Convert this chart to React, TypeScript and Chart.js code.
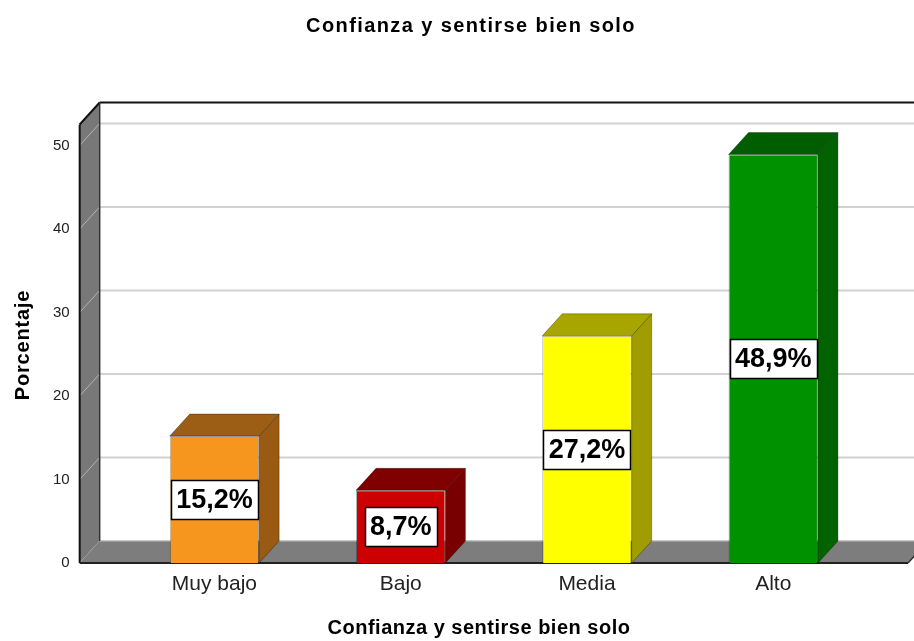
import { useEffect, useRef } from 'react';
import { Chart, registerables } from 'chart.js';

Chart.register(...registerables);

// ---- data ----
const categories = ['Muy bajo', 'Bajo', 'Media', 'Alto'];
const percentages = [15.2, 8.7, 27.2, 48.9];
const frontColors = ['#F7961E', '#CC0000', '#FFFF00', '#009100'];
const sideColors = ['#995A14', '#790000', '#A09D00', '#006300'];
const topColors = ['#9C5E15', '#800000', '#A8A500', '#005E00'];
const chartTitle = 'Confianza y sentirse bien solo';
const xAxisTitle = 'Confianza y sentirse bien solo';
const yAxisTitle = 'Porcentaje';
const yMin = 0;
const yMax = 52.5;
const yStep = 10;
const xMargin = 0.2235;

const FONT = '"Liberation Sans", Arial, sans-serif';
const DX = 20;
const DY = -22;

type Pt = [number, number];

function poly(ctx: CanvasRenderingContext2D, pts: Pt[], fill: string, stroke?: string, lw = 1) {
  ctx.beginPath();
  ctx.moveTo(pts[0][0], pts[0][1]);
  for (let i = 1; i < pts.length; i++) ctx.lineTo(pts[i][0], pts[i][1]);
  ctx.closePath();
  ctx.fillStyle = fill;
  ctx.fill();
  if (stroke) {
    ctx.strokeStyle = stroke;
    ctx.lineWidth = lw;
    ctx.stroke();
  }
}

function line(ctx: CanvasRenderingContext2D, x1: number, y1: number, x2: number, y2: number, color: string, lw: number) {
  ctx.beginPath();
  ctx.moveTo(x1, y1);
  ctx.lineTo(x2, y2);
  ctx.strokeStyle = color;
  ctx.lineWidth = lw;
  ctx.stroke();
}

const threeD = {
  id: 'threeD',
  beforeDatasetsDraw(chart: any) {
    const { ctx, chartArea: a, scales } = chart;
    const y = scales.y;
    const L = a.left, R = a.right, T = a.top, B = a.bottom;
    const W = chart.width;
    ctx.save();
    // back wall gridlines
    y.ticks.forEach((t: any) => {
      const py = y.getPixelForValue(t.value) + DY;
      line(ctx, L + DX, py, W, py, '#d2d2d2', 2);
    });
    // left wall
    poly(ctx, [[L, T], [L + DX, T + DY], [L + DX, B + DY], [L, B]], '#787878');
    y.ticks.forEach((t: any) => {
      const py = y.getPixelForValue(t.value);
      line(ctx, L, py, L + DX, py + DY, '#b4b4b4', 1);
    });
    // floor
    poly(ctx, [[L, B], [R, B], [R + DX, B + DY], [L + DX, B + DY]], '#7d7d7d');
    line(ctx, L + DX, B + DY, W, B + DY, '#bdbdbd', 1);
    // edges
    line(ctx, L + DX, T + DY, W, T + DY, '#111', 2);
    line(ctx, L, T, L + DX, T + DY, '#111', 2);
    line(ctx, L + DX, T + DY, L + DX, B + DY, '#333', 1.5);
    line(ctx, L, T, L, B, '#111', 2);
    line(ctx, L, B, R, B, '#222', 2);
    line(ctx, R, B, R + DX, B + DY, '#333', 1.5);
    ctx.restore();
  },
  afterDatasetsDraw(chart: any) {
    const { ctx } = chart;
    const meta = chart.getDatasetMeta(0);
    ctx.save();
    meta.data.forEach((bar: any, i: number) => {
      const { x, y: top, base, width } = bar.getProps(['x', 'y', 'base', 'width'], true);
      const xl = x - width / 2, xr = x + width / 2;
      poly(ctx, [[xr, top], [xr + DX, top + DY], [xr + DX, base + DY], [xr, base]], sideColors[i], 'rgba(0,0,0,0.3)', 1);
      poly(ctx, [[xl, top], [xl + DX, top + DY], [xr + DX, top + DY], [xr, top]], topColors[i], 'rgba(0,0,0,0.3)', 1);
      // value label
      const txt = percentages[i].toFixed(1).replace('.', ',') + '%';
      ctx.font = `bold 27px ${FONT}`;
      const tw = ctx.measureText(txt).width;
      const bw = Math.round(tw + 10), bh = 39;
      const cy = (top + base) / 2;
      const bx = Math.round(x - bw / 2) + 0.5, by = Math.round(cy - bh / 2) + 0.5;
      ctx.fillStyle = '#fff';
      ctx.fillRect(bx, by, bw, bh);
      ctx.strokeStyle = '#000';
      ctx.lineWidth = 1.5;
      ctx.strokeRect(bx, by, bw, bh);
      ctx.fillStyle = '#000';
      ctx.textAlign = 'center';
      ctx.textBaseline = 'middle';
      ctx.fillText(txt, x, cy + 1);
    });
    ctx.restore();
  },
  afterDraw(chart: any) {
    const { ctx } = chart;
    ctx.save();
    ctx.fillStyle = '#000';
    ctx.textAlign = 'center';
    ctx.textBaseline = 'alphabetic';
    // main title
    (ctx as any).letterSpacing = '1.4px';
    ctx.font = `bold 20px ${FONT}`;
    ctx.fillText(chartTitle, 471, 32);
    // x axis title
    (ctx as any).letterSpacing = '0.5px';
    ctx.font = `bold 20px ${FONT}`;
    ctx.fillText(xAxisTitle, 479, 634);
    // y axis title
    (ctx as any).letterSpacing = '0.8px';
    ctx.translate(29, 345);
    ctx.rotate(-Math.PI / 2);
    ctx.fillText(yAxisTitle, 0, 0);
    ctx.restore();
  },
};

export default function App() {
  const ref = useRef<HTMLCanvasElement | null>(null);
  useEffect(() => {
    document.body.style.margin = '0';
    const canvas = ref.current;
    if (!canvas) return;
    const chart = new Chart(canvas, {
      type: 'bar',
      data: {
        datasets: [
          {
            data: percentages.map((v, i) => ({ x: i, y: v })),
            backgroundColor: frontColors,
            borderColor: 'rgba(0,0,0,0.3)',
            borderWidth: 1,
            barPercentage: 0.48,
            categoryPercentage: 1,
          },
        ],
      },
      options: {
        animation: false,
        responsive: false,
        devicePixelRatio: 1,
        layout: { padding: { left: 43, right: 6, top: 124.5, bottom: 34.8 } },
        plugins: {
          legend: { display: false },
          tooltip: { enabled: false },
          title: { display: false },
        },
        scales: {
          x: {
            type: 'linear',
            min: -0.5 - xMargin,
            max: categories.length - 0.5 + xMargin,
            offset: false,
            grid: { display: false, drawTicks: false, offset: false },
            border: { display: false },
            ticks: {
              stepSize: 1,
              includeBounds: false,
              autoSkip: false,
              maxRotation: 0,
              padding: 9,
              color: '#222',
              font: { family: FONT, size: 21 },
              callback: (v: any) => categories[v as number] ?? '',
            },
          },
          y: {
            min: yMin,
            max: yMax,
            grid: { display: false, drawTicks: false },
            border: { display: false },
            ticks: {
              stepSize: yStep,
              includeBounds: false,
              padding: 10,
              color: '#222',
              font: { family: FONT, size: 15 },
            },
          },
        },
      } as any,
      plugins: [threeD],
    });
    return () => chart.destroy();
  }, []);
  return (
    <div style={{ position: 'absolute', left: 0, top: 0, width: 914, height: 641 }}>
      <canvas ref={ref} width={914} height={641} style={{ display: 'block' }} />
    </div>
  );
}
